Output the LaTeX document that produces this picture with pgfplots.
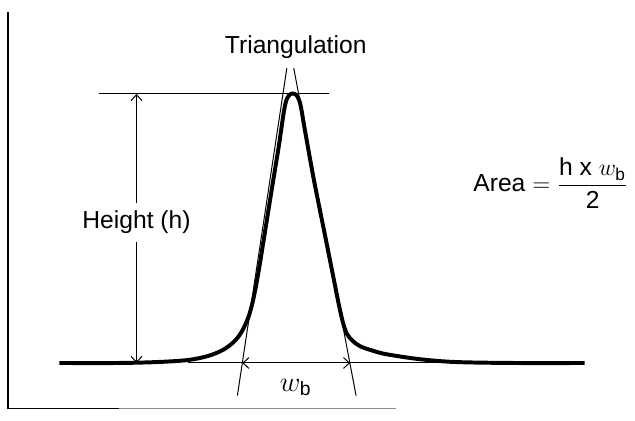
\documentclass[border=0pt]{standalone}
\usepackage{fontspec}
\setmainfont{Liberation Sans}
\usepackage{amsmath}
\usepackage{pgfplots}
\pgfplotsset{compat=1.18}
\usetikzlibrary{arrows.meta}

\begin{document}
\begin{tikzpicture}[>={Straight Barb[length=3bp,width=5.5bp]}]
\begin{axis}[hide axis, clip=false, scale only axis,
    width=317.5bp, height=212.5bp,
    xmin=0, xmax=635, ymin=0, ymax=425,
    font=\fontsize{12.5}{14}\selectfont]

% peak (y = 425 - pixel row)
\addplot[line width=2bp, smooth, tension=0.55] coordinates {
  (60,58) (120,58) (160,59) (190,61) (210,65) (225,71) (236,79)
  (244,89) (251,104) (256,122) (261,148) (267,185) (275,235)
  (282,278) (287,312) (290,325) (294,330) (298,330) (301,327)
  (304,318) (308,295) (317,245) (327,195) (337,145) (343,115)
  (347,98) (351,87) (357,80) (364,75) (375,71) (390,67) (423,62)
  (460,59) (520,58) (591,58)
};

% frame
\draw[line width=0.8bp] (axis cs:8,413) -- (axis cs:8,12) -- (axis cs:120,12);
\draw[line width=0.8bp, black!45] (axis cs:120,12) -- (axis cs:400,12);

% tangents
\draw[line width=0.5bp] (axis cs:240,25) -- (axis cs:290,356);
\draw[line width=0.5bp] (axis cs:360,25) -- (axis cs:297,356);

% peak height
\draw[line width=0.5bp] (axis cs:100,330) -- (axis cs:333,330);
\draw[line width=0.5bp, <->] (axis cs:138,58) -- (axis cs:138,330);
\node[fill=white, inner ysep=4pt, inner xsep=1pt] at (axis cs:138,200) {Height (h)};

% base width
\draw[line width=0.5bp] (axis cs:190,58) -- (axis cs:460,58);
\draw[line width=0.5bp, <->] (axis cs:245,58) -- (axis cs:354,58);
\node[font=\fontsize{14}{16}\selectfont] at (axis cs:299,33) {$w_{\mathrm{b}}$};

\node at (axis cs:299,377) {Triangulation};
\node at (axis cs:557,240) {Area $= \dfrac{\mathrm{h\ x}\ w_{\mathrm{b}}}{\mathrm{2}}$};

\path (axis cs:0,0) rectangle (axis cs:635,425);
\end{axis}
\end{tikzpicture}
\end{document}
